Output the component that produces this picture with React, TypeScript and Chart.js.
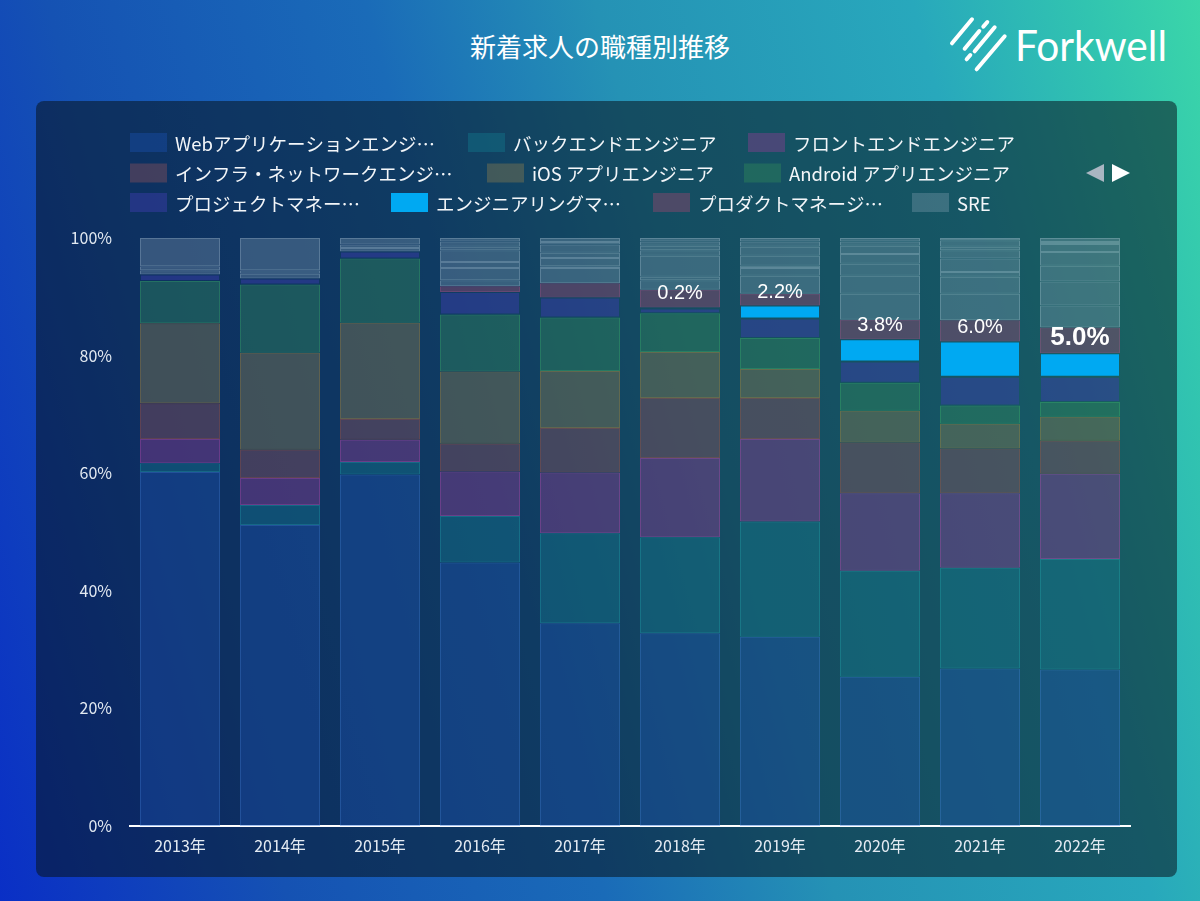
import React, { useEffect, useRef } from "react";
import { Chart, registerables } from "chart.js";

Chart.register(...registerables);

// ---------- data ----------
const years = ["2013年", "2014年", "2015年", "2016年", "2017年", "2018年", "2019年", "2020年", "2021年", "2022年"];

const webApp = [60.2, 51.2, 59.8, 44.8, 34.5, 32.8, 32.2, 25.4, 26.8, 26.6];
const backend = [1.5, 3.4, 2.1, 7.9, 15.3, 16.3, 19.6, 18.0, 17.1, 18.8];
const frontend = [4.1, 4.6, 3.8, 7.6, 10.3, 13.5, 14.0, 13.2, 12.7, 14.5];
const infra = [6.1, 4.8, 3.5, 4.7, 7.6, 10.2, 7.0, 8.6, 7.6, 5.6];
const ios = [13.6, 16.5, 16.4, 12.3, 9.7, 7.8, 4.9, 5.4, 4.2, 4.1];
const android = [7.2, 11.6, 10.9, 9.7, 9.1, 6.6, 5.3, 4.8, 3.1, 2.5];
const projectMgr = [1.1, 1.0, 1.2, 3.8, 3.4, 0.8, 3.3, 3.6, 4.9, 4.3];
const engineeringMgr = [null, null, null, null, null, 0.2, 2.2, 3.8, 6.0, 4.0];
const productMgr = [null, null, null, 1.0, 2.4, 3.0, 2.0, 3.3, 3.6, 4.4];
const sre = [0.7, 0.8, 0.6, 1.0, 2.6, 1.6, 3.1, 4.4, 4.5, 3.7];
const other1 = [0.7, 0.6, 0.6, 2.1, 0.3, 0.6, 1.3, 3.1, 2.9, 4.1];
const other2 = [4.8, 5.5, 1.1, 1.0, 1.4, 3.6, 0.4, 2.0, 0.8, 2.7];
const other3 = [null, null, null, 2.0, 0.9, 0.9, 1.7, 1.7, 2.3, 2.3];
const other4 = [null, null, null, 0.6, 1.4, 0.8, 1.5, 1.4, 1.4, 1.4];
const other5 = [null, null, null, 0.9, 0.4, 0.7, 0.9, 0.7, 0.6, 0.3];
const other6 = [null, null, null, 0.6, 0.7, 0.6, 0.6, 0.6, 1.1, 0.7];
const other7 = [null, null, null, null, null, null, null, null, 0.4, null];

const seriesNames = [
  "Webアプリケーションエンジニア",
  "バックエンドエンジニア",
  "フロントエンドエンジニア",
  "インフラ・ネットワークエンジニア",
  "iOS アプリエンジニア",
  "Android アプリエンジニア",
  "プロジェクトマネージャー",
  "エンジニアリングマネージャー",
  "プロダクトマネージャー",
  "SRE",
  "その他1",
  "その他2",
  "その他3",
  "その他4",
  "その他5",
  "その他6",
  "その他7",
];

// legend page 1 as displayed (truncated like the original)
const legendLabels = [
  "Webアプリケーションエンジ…",
  "バックエンドエンジニア",
  "フロントエンドエンジニア",
  "インフラ・ネットワークエンジ…",
  "iOS アプリエンジニア",
  "Android アプリエンジニア",
  "プロジェクトマネー…",
  "エンジニアリングマ…",
  "プロダクトマネージ…",
  "SRE",
];

// callouts shown above the engineering-manager segment
const emCallouts = ["", "", "", "", "", "0.2%", "2.2%", "3.8%", "6.0%", "5.0%"];
const emCalloutBold = [false, false, false, false, false, false, false, false, false, true];

const yTicks = [0, 20, 40, 60, 80, 100];

// ---------- styles ----------
const seriesValues = [
  webApp, backend, frontend, infra, ios, android, projectMgr, engineeringMgr, productMgr,
  sre, other1, other2, other3, other4, other5, other6, other7,
];

const LIGHT_FILL = "rgba(150,172,192,0.30)";
const LIGHT_BORDER = "rgba(190,212,226,0.42)";

const fills = [
  "rgba(30,90,200,0.32)",
  "rgba(20,130,150,0.36)",
  "rgba(150,60,150,0.40)",
  "rgba(140,80,90,0.42)",
  "rgba(130,120,80,0.44)",
  "rgba(50,140,90,0.40)",
  "rgba(60,60,175,0.46)",
  "#00a9f2",
  "rgba(150,70,110,0.44)",
  LIGHT_FILL, LIGHT_FILL, LIGHT_FILL, LIGHT_FILL, LIGHT_FILL, LIGHT_FILL, LIGHT_FILL, LIGHT_FILL,
];
const borders = [
  "rgba(60,125,225,0.45)",
  "rgba(30,170,180,0.45)",
  "rgba(180,70,170,0.55)",
  "rgba(175,85,70,0.50)",
  "rgba(175,140,60,0.50)",
  "rgba(60,175,100,0.50)",
  "rgba(60,60,175,0.0)",
  "rgba(0,169,242,0)",
  "rgba(185,80,130,0.50)",
  LIGHT_BORDER, LIGHT_BORDER, LIGHT_BORDER, LIGHT_BORDER, LIGHT_BORDER, LIGHT_BORDER, LIGHT_BORDER, LIGHT_BORDER,
];

const EM_INDEX = 7;

// legend layout (canvas coordinates)
const legendRows = [[0, 1, 2], [3, 4, 5], [6, 7, 8, 9]];
const legendX = [[94, 432, 712], [94, 451, 708], [94, 355, 617, 876]];
const legendY = [41.5, 72, 101.5];

const CJK = "'Noto Sans CJK JP', 'Noto Sans', sans-serif";

const gridLegend = {
  id: "gridLegend",
  afterDraw(chart: any) {
    const ctx = chart.ctx as CanvasRenderingContext2D;
    ctx.save();
    ctx.font = `18.5px ${CJK}`;
    ctx.textBaseline = "middle";
    ctx.textAlign = "left";
    legendRows.forEach((row, r) => {
      row.forEach((di, c) => {
        const ds = chart.data.datasets[di];
        const x = legendX[r][c];
        const y = legendY[r];
        ctx.fillStyle = ds.backgroundColor;
        ctx.fillRect(x, y - 9.5, 37, 19);
        ctx.fillStyle = "#f3f6f9";
        ctx.fillText(legendLabels[di], x + 45, y + 1);
      });
    });
    // pager arrows
    const ay = legendY[1];
    ctx.fillStyle = "#aab6c2";
    ctx.beginPath();
    ctx.moveTo(1050, ay);
    ctx.lineTo(1068, ay - 9);
    ctx.lineTo(1068, ay + 9);
    ctx.closePath();
    ctx.fill();
    ctx.fillStyle = "#ffffff";
    ctx.beginPath();
    ctx.moveTo(1076, ay - 9);
    ctx.lineTo(1076, ay + 9);
    ctx.lineTo(1094, ay);
    ctx.closePath();
    ctx.fill();
    ctx.restore();
  },
};

const emCalloutPlugin = {
  id: "emCallouts",
  afterDatasetsDraw(chart: any) {
    const meta = chart.getDatasetMeta(EM_INDEX);
    const ctx = chart.ctx as CanvasRenderingContext2D;
    ctx.save();
    ctx.fillStyle = "#ffffff";
    ctx.textAlign = "center";
    ctx.textBaseline = "alphabetic";
    meta.data.forEach((bar: any, i: number) => {
      const text = emCallouts[i];
      if (!text) return;
      const bold = emCalloutBold[i];
      ctx.font = `${bold ? "bold 26px" : "20px"} 'Liberation Sans', Arial, sans-serif`;
      ctx.fillText(text, bar.x, bar.y - 8);
    });
    ctx.restore();
  },
};

export default function App() {
  const canvasRef = useRef<HTMLCanvasElement>(null);

  useEffect(() => {
    if (!canvasRef.current) return;
    const chart = new Chart(canvasRef.current, {
      type: "bar",
      data: {
        labels: years,
        datasets: seriesValues.map((vals, i) => ({
          label: seriesNames[i],
          data: vals as any,
          backgroundColor: fills[i],
          borderColor: borders[i],
          borderWidth: 1,
          borderSkipped: false,
          barPercentage: 1,
          categoryPercentage: 0.8,
        })),
      },
      options: {
        responsive: false,
        animation: false,
        events: [],
        layout: { padding: { top: 137, left: 0, right: 47, bottom: 0 } },
        plugins: {
          legend: { display: false },
          tooltip: { enabled: false },
          title: { display: false },
        },
        scales: {
          x: {
            stacked: true,
            grid: { display: false, drawTicks: false },
            border: { display: true, color: "#ffffff", width: 2 },
            ticks: {
              color: "#e3eaf2",
              font: { family: CJK, size: 16 },
              padding: 10,
            },
            afterFit(scale: any) {
              scale.height = 51;
            },
          },
          y: {
            stacked: true,
            min: 0,
            max: 100,
            grid: { display: false, drawTicks: false },
            border: { display: false },
            afterBuildTicks(scale: any) {
              scale.ticks = yTicks.map((v) => ({ value: v }));
            },
            ticks: {
              color: "#e3eaf2",
              font: { family: CJK, size: 16 },
              padding: 18,
              callback: (v: any) => `${v}%`,
            },
            afterFit(scale: any) {
              scale.width = 94;
            },
          },
        },
      },
      plugins: [gridLegend, emCalloutPlugin],
    });
    return () => chart.destroy();
  }, []);

  return (
    <div
      style={{
        position: "absolute",
        left: 0,
        top: 0,
        width: 1200,
        height: 901,
        overflow: "hidden",
        background:
          "linear-gradient(75deg, #0a2fc6 0%, #1552b3 20%, #1a6bb8 42%, #2592b5 58%, #28a8bc 80%, #31c4b0 92%, #3bd6a9 100%)",
      }}
    >
      <svg
        width={1200}
        height={100}
        style={{ position: "absolute", left: 0, top: 0 }}
      >
        <text
          x={600}
          y={57}
          textAnchor="middle"
          fontSize={26}
          fontFamily="'Noto Sans CJK JP', sans-serif"
          fill="#ffffff"
        >
          新着求人の職種別推移
        </text>
        <g
          transform="translate(930,10) scale(0.3333)"
          stroke="#ffffff"
          strokeWidth={12}
          strokeLinecap="round"
          fill="none"
        >
          <line x1={66} y1={100} x2={126} y2={28} />
          <line x1={104} y1={116} x2={148} y2={63} />
          <line x1={160} y1={50} x2={172} y2={36} />
          <line x1={110} y1={148} x2={121} y2={135} />
          <line x1={134} y1={124} x2={194} y2={52} />
          <line x1={140} y1={178} x2={224} y2={79} />
        </g>
        <text
          x={1015}
          y={61}
          fontSize={42}
          fontFamily="Lato, 'Noto Sans', sans-serif"
          fill="#ffffff"
          textLength={152}
          lengthAdjust="spacingAndGlyphs"
        >
          Forkwell
        </text>
      </svg>
      <div
        style={{
          position: "absolute",
          left: 36,
          top: 101,
          width: 1141,
          height: 776,
          borderRadius: 8,
          background: "rgba(8,20,30,0.55)",
        }}
      >
        <canvas ref={canvasRef} width={1141} height={776} style={{ display: "block" }} />
      </div>
    </div>
  );
}
